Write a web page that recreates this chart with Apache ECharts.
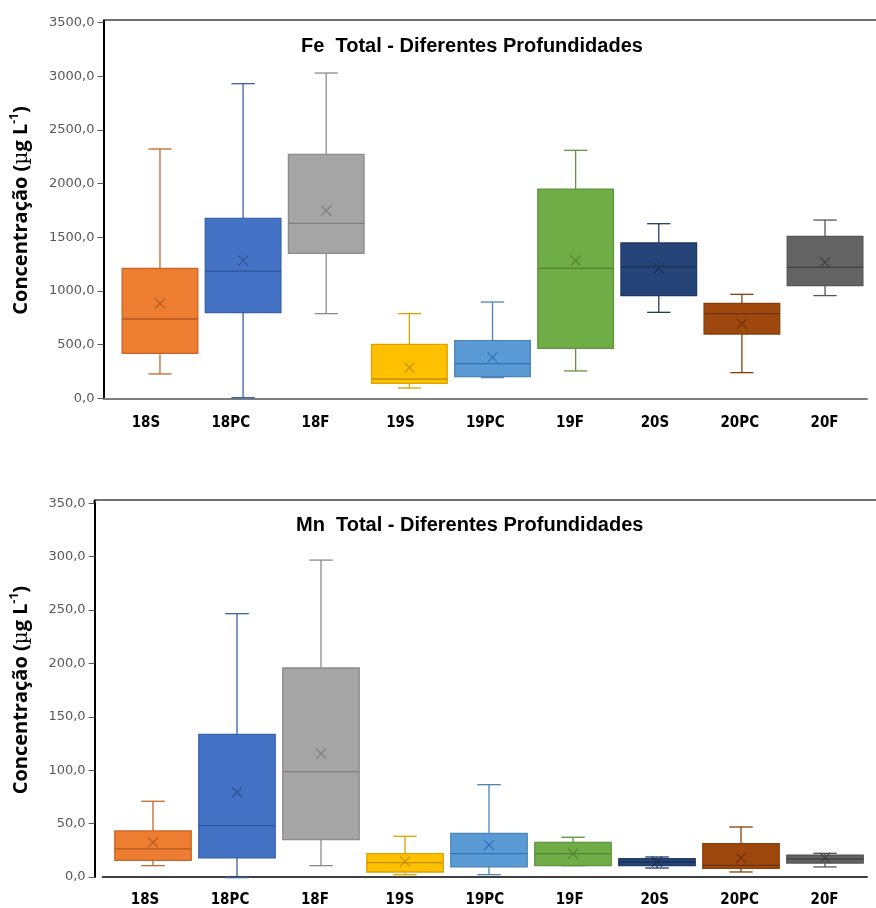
<!DOCTYPE html>
<html><head><meta charset="utf-8">
<script src="https://cdn.jsdelivr.net/npm/echarts@6/dist/echarts.min.js"></script>
<style>html,body{margin:0;padding:0;background:#fff}#c{width:876px;height:908px}</style>
</head><body><div id="c"></div><script>
// ---- data ----
const categories = ['18S','18PC','18F','19S','19PC','19F','20S','20PC','20F'];
const feTicks = [0,500,1000,1500,2000,2500,3000,3500];
const mnTicks = [0,50,100,150,200,250,300,350];

const feMin    = [227, 6, 789, 96, 193, 255, 801, 239, 957];
const feQ1     = [419, 798, 1351, 140, 202, 466, 957, 599, 1050];
const feMedian = [739, 1186, 1630, 180, 323, 1211, 1224, 789, 1220];
const feQ3     = [1211, 1677, 2273, 503, 537, 1950, 1447, 885, 1509];
const feMax    = [2323, 2932, 3031, 789, 897, 2311, 1627, 969, 1661];
const feMean   = [885, 1283, 1748, 286, 382, 1283, 1211, 696, 1267];

const mnMin    = [11.8, 0.6, 11.8, 3.4, 3.4, 11.8, 9.6, 5.9, 10.6];
const mnQ1     = [16.8, 19.0, 36.1, 5.9, 10.6, 11.8, 11.8, 9.3, 14.3];
const mnMedian = [27.4, 49.2, 99.6, 14.6, 23.0, 23.0, 15.2, 12.1, 18.0];
const mnQ3     = [44.2, 134.4, 196.3, 23.0, 42.0, 33.6, 18.4, 32.4, 21.5];
const mnMax    = [71.9, 247, 297, 39.2, 87.4, 38.3, 19.9, 47.9, 23.3];
const mnMean   = [33.6, 80.3, 116.4, 15.6, 31.1, 23.0, 15.6, 19.0, 19.0];

// ---- styles ----
const fills   = ['#ED7D31','#4472C4','#A5A5A5','#FFC000','#5B9BD5','#70AD47','#264478','#9E480E','#636363'];
const borders = ['#C8652A','#3A62A8','#8C8C8C','#D9A300','#4D84B5','#5F933C','#203A66','#86400C','#545454'];
const meanCol = ['#B55A20','#2F5597','#7F7F7F','#BF9000','#2E75B6','#548235','#1A2F52','#6E3109','#404040'];

function rows(mn, q1, md, q3, mx, mean) {
  return categories.map((c, i) => [i, mn[i], q1[i], md[i], q3[i], mx[i], mean[i]]);
}

function renderBox(params, api) {
  const i = api.value(0);
  const pMin = api.coord([i, api.value(1)]);
  const yQ1 = api.coord([i, api.value(2)])[1];
  const yMd = api.coord([i, api.value(3)])[1];
  const yQ3 = api.coord([i, api.value(4)])[1];
  const yMax = api.coord([i, api.value(5)])[1];
  const yMean = api.coord([i, api.value(6)])[1];
  const x = pMin[0], yMin = pMin[1];
  const band = api.size([1, 0])[0];
  const bw = band * 0.91, cw = band * 0.28;
  const b = borders[i], m = meanCol[i];
  const ls = {stroke: b, lineWidth: 1.3};
  const k = 5;
  return {type: 'group', children: [
    {type: 'line', shape: {x1: x, y1: yMax, x2: x, y2: yQ3}, style: ls},
    {type: 'line', shape: {x1: x, y1: yQ1, x2: x, y2: yMin}, style: ls},
    {type: 'line', shape: {x1: x - cw/2, y1: yMax, x2: x + cw/2, y2: yMax}, style: ls},
    {type: 'line', shape: {x1: x - cw/2, y1: yMin, x2: x + cw/2, y2: yMin}, style: ls},
    {type: 'rect', shape: {x: x - bw/2, y: yQ3, width: bw, height: yQ1 - yQ3}, style: {fill: fills[i], stroke: b, lineWidth: 1.3}},
    {type: 'line', shape: {x1: x - bw/2, y1: yMd, x2: x + bw/2, y2: yMd}, style: {stroke: m, lineWidth: 1.3}},
    {type: 'line', shape: {x1: x - k, y1: yMean - k, x2: x + k, y2: yMean + k}, style: {stroke: m, lineWidth: 1.2}},
    {type: 'line', shape: {x1: x - k, y1: yMean + k, x2: x + k, y2: yMean - k}, style: {stroke: m, lineWidth: 1.2}}
  ]};
}

const fmt = v => v.toFixed(1).replace('.', ',');
const xLabel = {fontFamily: '"Liberation Sans Narrow","DejaVu Sans Condensed",sans-serif', fontWeight: 'bold', fontSize: 15, color: '#000'};
const yLabel = {fontFamily: '"DejaVu Sans",sans-serif', fontSize: 13, color: '#595959', margin: 9, formatter: fmt};
const yName = {
  fontFamily: '"Open Sans",sans-serif', fontWeight: 'bold', fontSize: 20, color: '#000',
  rich: {
    mu: {fontFamily: '"DejaVu Serif",serif', fontSize: 20, fontWeight: 'normal', color: '#000', lineHeight: 26},
    sup: {fontFamily: '"Open Sans",sans-serif', fontWeight: 'bold', fontSize: 12, color: '#000', verticalAlign: 'top', lineHeight: 26, padding: [0,0,10,0]}
  }
};
const nameText = 'Concentração ({mu|\u00B5}g L{sup|-1})';
const titleStyle = {fontFamily: '"Liberation Sans",Arial,sans-serif', fontWeight: 'bold', fontSize: 20, color: '#000'};

const chart = echarts.init(document.getElementById('c'), null, {renderer: 'canvas'});
chart.setOption({
  backgroundColor: '#fff',
  animation: false,
  title: [
    {text: 'Fe  Total - Diferentes Profundidades', left: 296, top: 31, textStyle: titleStyle},
    {text: 'Mn  Total - Diferentes Profundidades', left: 291, top: 510, textStyle: titleStyle}
  ],
  grid: [
    {left: 103.5, right: 9, top: 22.7, height: 375.6},
    {left: 118.4, right: 9.4, top: 22.7, height: 375.6},
    {left: 102.6, right: 9, top: 503.3, height: 375},
    {left: 111, right: 9, top: 503.3, height: 375}
  ],
  xAxis: [
    {type: 'category', gridIndex: 0, data: categories, axisLine: {lineStyle: {color: '#7f7f7f', width: 2}}, axisTick: {show: false}, axisLabel: Object.assign({margin: 17}, xLabel)},
    {type: 'category', gridIndex: 1, data: categories, show: false},
    {type: 'category', gridIndex: 2, data: categories, axisLine: {lineStyle: {color: '#404040', width: 2}}, axisTick: {show: false}, axisLabel: Object.assign({margin: 16}, xLabel)},
    {type: 'category', gridIndex: 3, data: categories, show: false}
  ],
  yAxis: [
    {type: 'value', gridIndex: 0, min: feTicks[0], max: feTicks[feTicks.length-1], interval: feTicks[1]-feTicks[0],
     axisLine: {show: true, lineStyle: {color: '#000', width: 2}}, axisTick: {show: true, length: 6, lineStyle: {color: '#595959'}},
     splitLine: {show: false}, axisLabel: yLabel,
     name: nameText, nameLocation: 'middle', nameRotate: 90, nameGap: 69, nameTextStyle: yName},
    {type: 'value', gridIndex: 1, min: feTicks[0], max: feTicks[feTicks.length-1], show: false, splitLine: {show: false}},
    {type: 'value', gridIndex: 2, min: mnTicks[0], max: mnTicks[mnTicks.length-1], interval: mnTicks[1]-mnTicks[0], offset: 8,
     axisLine: {show: true, lineStyle: {color: '#000', width: 2}}, axisTick: {show: true, length: 6, lineStyle: {color: '#595959'}},
     splitLine: {show: false}, axisLabel: yLabel,
     name: nameText, nameLocation: 'middle', nameRotate: 90, nameGap: 60, nameTextStyle: yName},
    {type: 'value', gridIndex: 3, min: mnTicks[0], max: mnTicks[mnTicks.length-1], show: false, splitLine: {show: false}}
  ],
  graphic: [
    {type: 'line', shape: {x1: 103, y1: 20, x2: 876, y2: 20}, style: {stroke: '#404040', lineWidth: 1.5}},
    {type: 'line', shape: {x1: 104, y1: 20, x2: 104, y2: 24}, style: {stroke: '#000', lineWidth: 2}},
    {type: 'line', shape: {x1: 94, y1: 500, x2: 876, y2: 500}, style: {stroke: '#404040', lineWidth: 1.5}},
    {type: 'line', shape: {x1: 94.6, y1: 500, x2: 94.6, y2: 504}, style: {stroke: '#000', lineWidth: 2}}
  ],
  series: [
    {type: 'custom', xAxisIndex: 1, yAxisIndex: 1, renderItem: renderBox, encode: {x: 0, y: [1,2,3,4,5,6]},
     data: rows(feMin, feQ1, feMedian, feQ3, feMax, feMean)},
    {type: 'custom', xAxisIndex: 3, yAxisIndex: 3, renderItem: renderBox, encode: {x: 0, y: [1,2,3,4,5,6]},
     data: rows(mnMin, mnQ1, mnMedian, mnQ3, mnMax, mnMean)}
  ]
});
</script></body></html>
